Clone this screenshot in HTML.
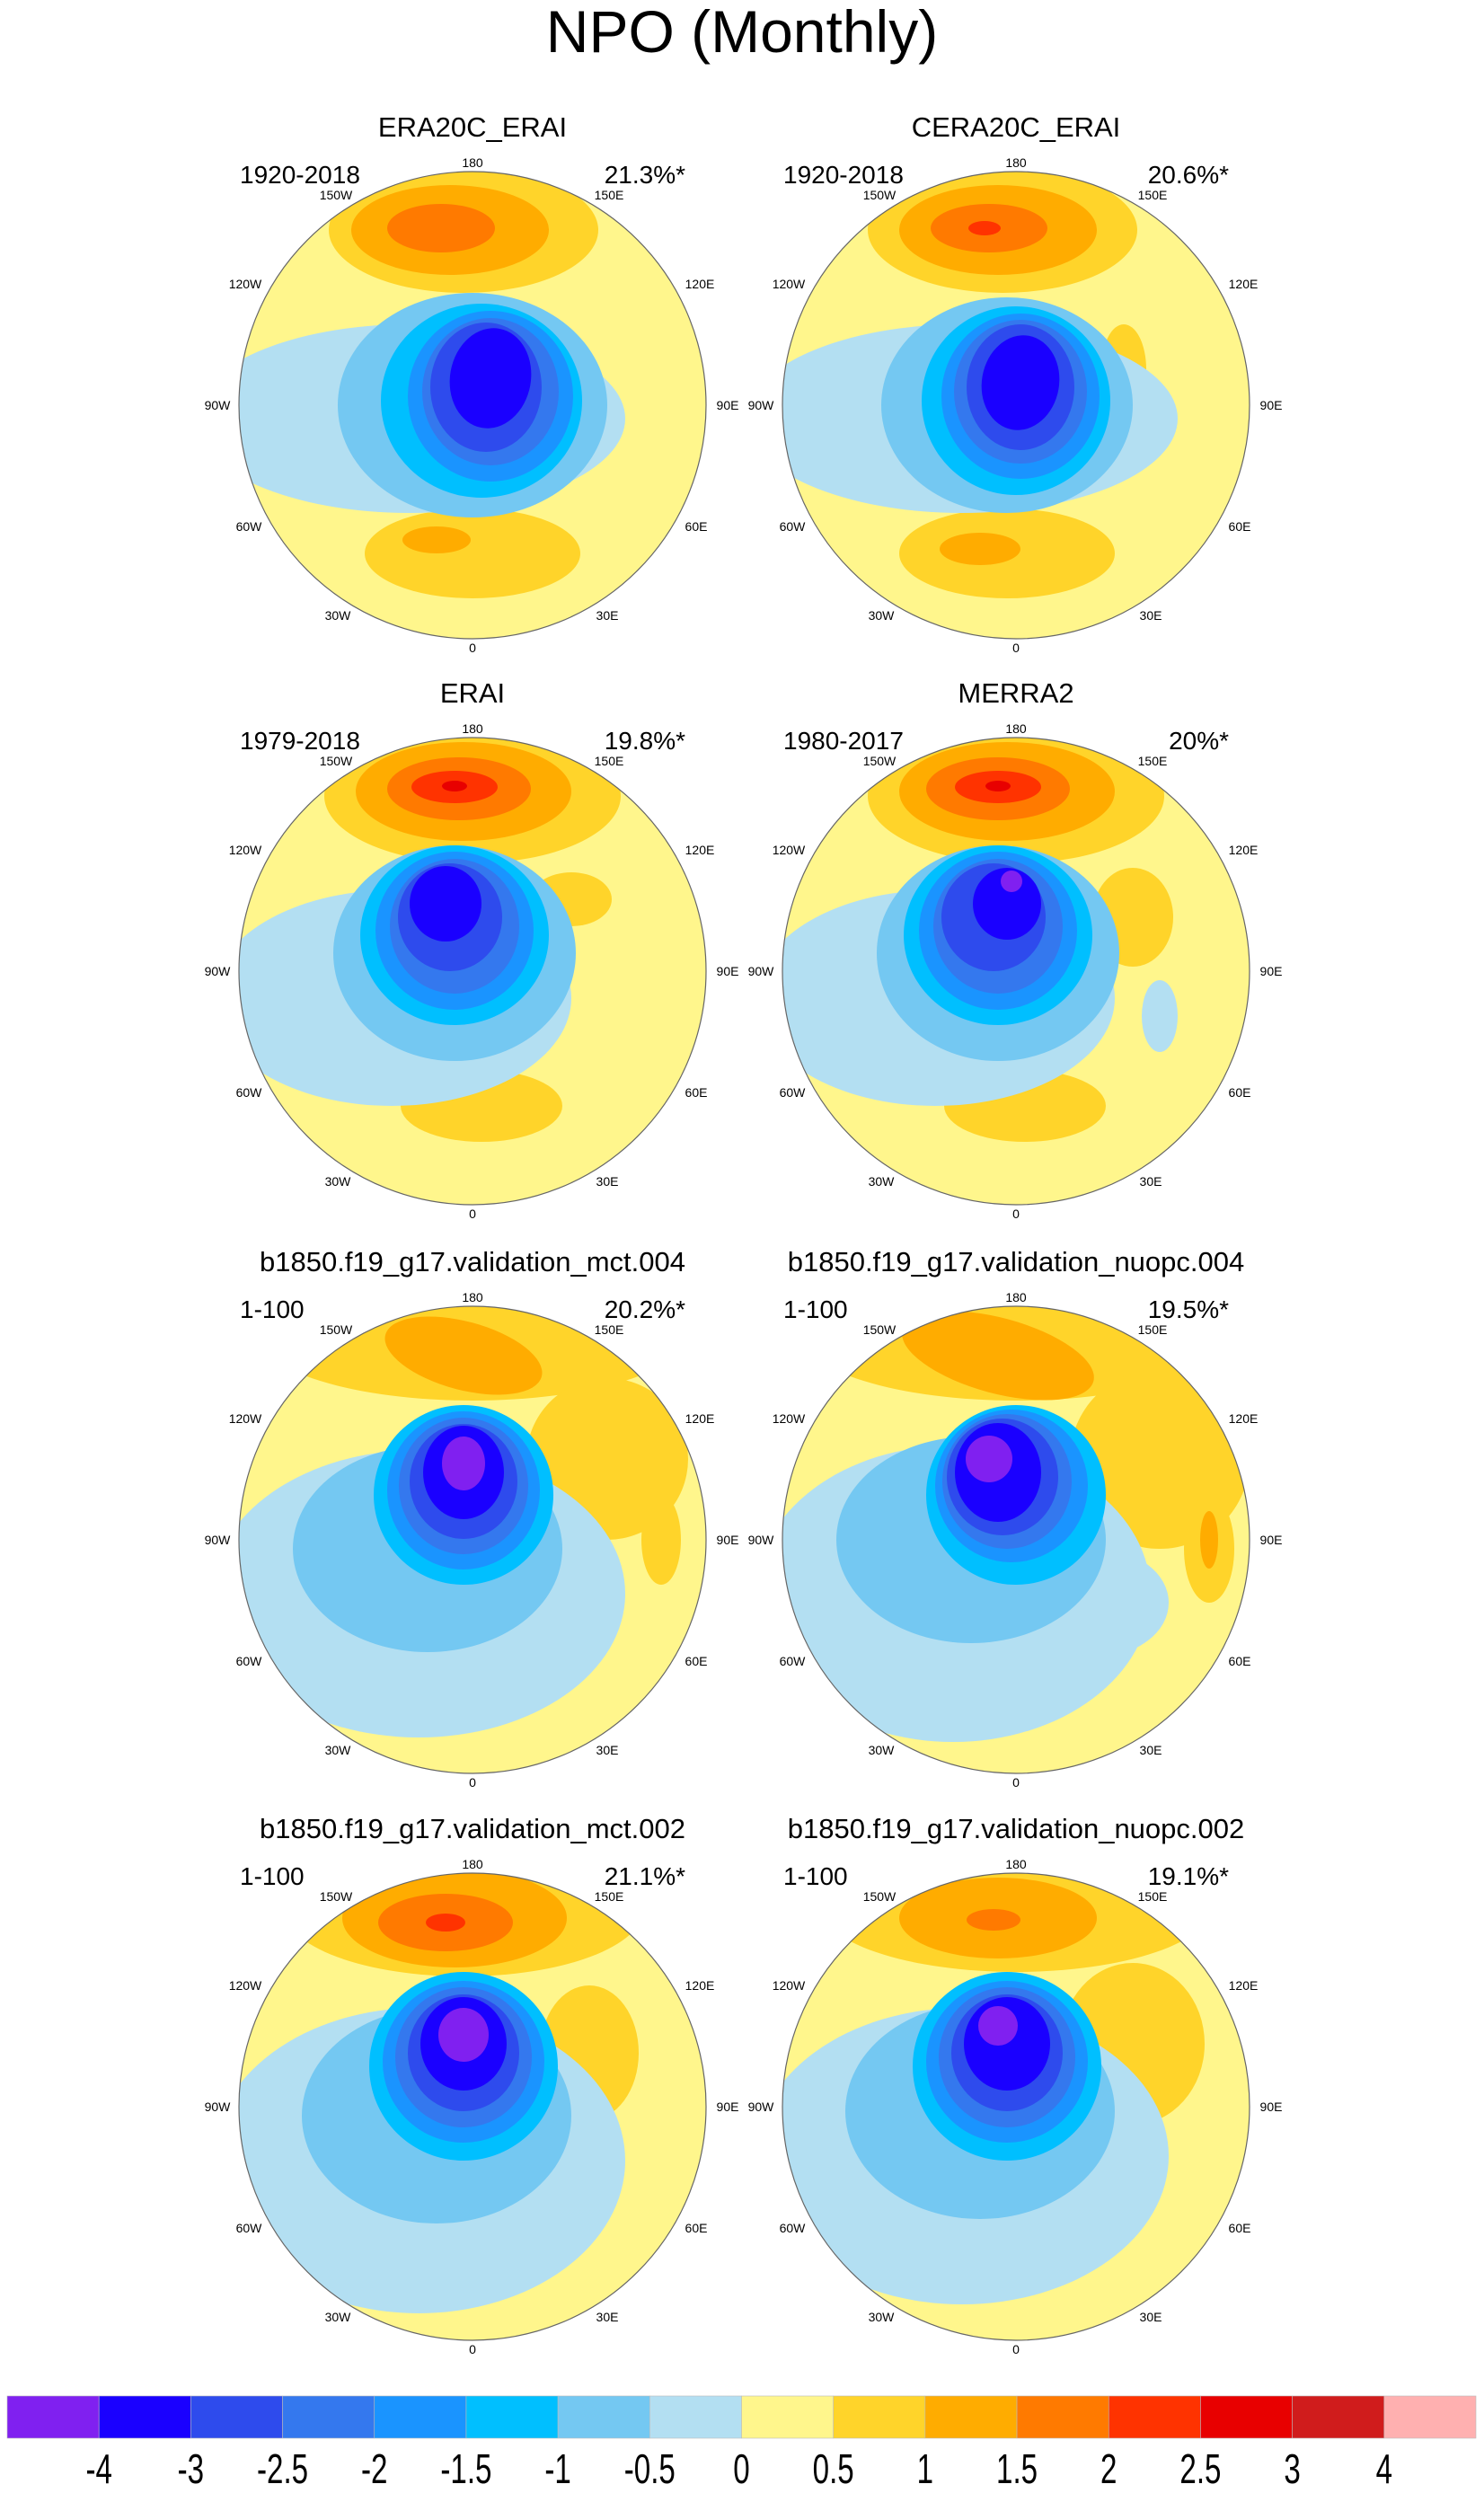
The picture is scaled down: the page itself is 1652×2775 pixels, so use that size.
<!DOCTYPE html>
<html><head><meta charset="utf-8">
<style>
body{margin:0;background:#fff;width:1652px;height:2770px;overflow:hidden;font-family:"Liberation Sans",sans-serif}
</style></head>
<body>
<svg id="fig" width="1652" height="2770" viewBox="0 0 1652 2770" xmlns="http://www.w3.org/2000/svg">
<text x="826" y="58" text-anchor="middle" font-size="66" font-family="Liberation Sans, sans-serif">NPO (Monthly)</text>
</svg>
<script>
const levelColors = ["#8020f0","#1a00ff","#2e4bed","#3478ee","#1a94ff","#00bfff","#74c8f2","#b3dff2","#fff68c","#ffd42a","#ffac00","#ff7a00","#ff3300","#e80000","#d01c1c","#ffb0b0"];
const barLabels = ["-4","-3","-2.5","-2","-1.5","-1","-0.5","0","0.5","1","1.5","2","2.5","3","4"];
const panelTitles = ["ERA20C_ERAI","CERA20C_ERAI","ERAI","MERRA2","b1850.f19_g17.validation_mct.004","b1850.f19_g17.validation_nuopc.004","b1850.f19_g17.validation_mct.002","b1850.f19_g17.validation_nuopc.002"];
const panelPeriods = ["1920-2018","1920-2018","1979-2018","1980-2017","1-100","1-100","1-100","1-100"];
const panelPct = ["21.3%*","20.6%*","19.8%*","20%*","20.2%*","19.5%*","21.1%*","19.1%*"];
// blobs: [dx, dy, rx, ry, colorIndex, rotation]
const blobs1 = [[-10,-195,150,70,9,0],[-25,-195,110,50,10,0],[-35,-197,60,27,11,0],[0,165,120,50,9,0],[-40,150,38,15,10,0],[-70,15,240,105,7,0],[0,0,150,125,6,0],[10,-5,112,108,5,0],[20,-10,92,95,4,0],[20,-15,76,82,3,0],[15,-20,62,72,2,0],[20,-30,45,56,1,10]];
const blobs2 = [[-15,-195,150,70,9,0],[-20,-195,110,50,10,0],[-30,-197,65,27,11,0],[-35,-197,18,8,12,0],[-10,165,120,50,9,0],[-40,160,45,18,10,0],[120,-40,25,50,9,0],[-60,15,240,105,7,0],[-10,0,140,120,6,0],[0,-5,105,105,5,0],[5,-10,88,92,4,0],[5,-15,74,80,3,0],[5,-20,60,70,2,0],[5,-25,43,53,1,10]];
const blobs3 = [[0,-195,165,75,9,0],[-10,-200,120,55,10,0],[-15,-203,80,35,11,0],[-20,-205,48,18,12,0],[-20,-206,14,6,13,0],[110,-80,45,30,9,0],[10,150,90,40,9,0],[-90,30,200,120,7,0],[-20,-20,135,120,6,0],[-20,-40,105,100,5,0],[-20,-45,88,88,4,0],[-20,-50,72,75,3,0],[-25,-60,58,60,2,0],[-30,-75,40,42,1,0]];
const blobs4 = [[0,-195,165,75,9,0],[-10,-200,120,55,10,0],[-20,-203,80,35,11,0],[-20,-205,48,18,12,0],[-20,-206,14,6,13,0],[130,-60,45,55,9,0],[10,150,90,40,9,0],[-90,30,200,120,7,0],[160,50,20,40,7,0],[-20,-20,135,120,6,0],[-20,-40,105,100,5,0],[-20,-45,88,88,4,0],[-20,-50,72,75,3,0],[-25,-60,58,60,2,0],[-10,-75,38,40,1,0],[-5,-100,12,12,0,0]];
const blobs5 = [[0,-230,240,75,9,0],[150,-90,90,90,9,0],[-10,-205,90,38,10,15],[210,0,22,50,9,0],[0,155,12,12,9,0],[-60,60,230,160,7,0],[-50,10,150,115,6,0],[-10,-50,100,100,5,0],[-10,-55,85,88,4,0],[-10,-60,72,76,3,0],[-10,-65,60,64,2,0],[-10,-75,45,52,1,0],[-10,-85,24,30,0,0]];
const blobs6 = [[0,-230,240,75,9,0],[160,-90,100,100,9,0],[-20,-205,110,42,10,15],[215,10,28,60,9,0],[215,0,10,32,10,0],[-70,60,220,165,7,0],[90,70,80,60,7,0],[-50,0,150,115,6,0],[0,-50,100,100,5,0],[-5,-60,85,85,4,0],[-10,-65,72,75,3,0],[-15,-70,62,65,2,0],[-20,-75,48,55,1,0],[-30,-90,26,26,0,0]];
const blobs7 = [[-10,-220,200,75,9,0],[-20,-210,125,55,10,0],[-30,-205,75,32,11,0],[-30,-205,22,10,12,0],[130,-60,55,75,9,0],[0,170,35,25,9,0],[-60,60,230,170,7,0],[-40,10,150,120,6,0],[-10,-45,105,105,5,0],[-10,-50,90,90,4,0],[-10,-55,76,78,3,0],[-10,-60,62,65,2,0],[-10,-70,48,52,1,0],[-10,-80,28,30,0,0]];
const blobs8 = [[0,-225,220,75,9,0],[-20,-210,110,45,10,0],[-25,-208,30,12,11,0],[130,-70,80,90,9,0],[10,170,35,18,9,0],[-60,55,230,165,7,0],[-40,5,150,120,6,0],[-10,-45,105,105,5,0],[-10,-50,90,90,4,0],[-10,-55,76,78,3,0],[-10,-60,62,65,2,0],[-10,-70,48,52,1,0],[-20,-90,22,22,0,0]];
const allBlobs = [blobs1,blobs2,blobs3,blobs4,blobs5,blobs6,blobs7,blobs8];
const colX = [526,1131];
const rowY = [451,1081,1714,2345];
const lonLabels = ["180","150E","120E","90E","60E","30E","0","30W","60W","90W","120W","150W"];
const lonDx = [0,152,253,284,249,150,0,-150,-249,-284,-253,-152];
const lonDy = [-270,-234,-135,0,135,234,270,234,135,0,-135,-234];
const R = 260;
const NS = "http://www.w3.org/2000/svg";
const fig = document.getElementById('fig');
function mk(tag, attrs, parent){const e=document.createElementNS(NS,tag);for(const k in attrs)e.setAttribute(k,attrs[k]);(parent||fig).appendChild(e);return e;}
const defs = mk('defs',{});
for(let i=0;i<8;i++){
  const cx=colX[i%2], cy=rowY[Math.floor(i/2)];
  const cp=mk('clipPath',{id:'clip'+i},defs);
  mk('circle',{cx:cx,cy:cy,r:R},cp);
  const g=mk('g',{'clip-path':'url(#clip'+i+')'});
  
  
  const bg=mk('circle',{cx:cx,cy:cy,r:R,fill:levelColors[8]},g);
  
  
  for(const b of allBlobs[i]){
    const el=mk('ellipse',{cx:cx+b[0],cy:cy+b[1],rx:b[2],ry:b[3],fill:levelColors[b[4]],transform:'rotate('+b[5]+' '+(cx+b[0])+' '+(cy+b[1])+')'},g);
    
    
  }
  const ring=mk('circle',{cx:cx,cy:cy,r:R,fill:'none',stroke:'#666','stroke-width':1.2});
  
  
  const t=mk('text',{x:cx,y:cy-299,'text-anchor':'middle','font-size':31});
  t.textContent=panelTitles[i];
  
  
  const p=mk('text',{x:cx-259,y:cy-247,'font-size':28});
  p.textContent=panelPeriods[i];
  
  
  const q=mk('text',{x:cx+237,y:cy-247,'text-anchor':'end','font-size':28});
  q.textContent=panelPct[i];
  
  
  for(let k=0;k<12;k++){
    const l=mk('text',{x:cx+lonDx[k],y:cy+lonDy[k]+5,'text-anchor':'middle','font-size':14});
    l.textContent=lonLabels[k];
    
    
  }
}
// colorbar
const x0=8, x1=1643, by=2667, bh=47, n=levelColors.length;
const bw=(x1-x0)/n;
for(let j=0;j<n;j++){
  const r=mk('rect',{x:x0+j*bw,y:by,width:bw,height:bh,fill:levelColors[j],stroke:'#bbb','stroke-width':0.6});
  
  
}
for(let j=0;j<barLabels.length;j++){
  const lx=x0+(j+1)*bw;
  const l=mk('text',{x:0,y:0,'text-anchor':'middle','font-size':46,transform:'translate('+lx+',2764) scale(0.72,1)'});
  l.textContent=barLabels[j];
  
  
}
</script>
</body></html>
